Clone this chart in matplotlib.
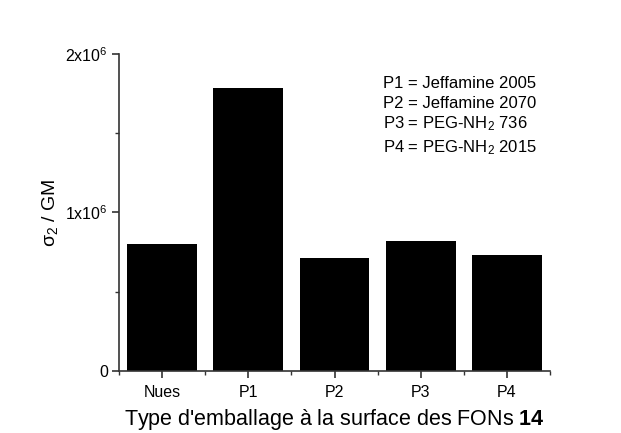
import numpy as np
import matplotlib
matplotlib.use('Agg')
import matplotlib.pyplot as plt
from matplotlib.ticker import FixedLocator, MultipleLocator

plt.rcParams['font.family'] = ['Liberation Sans', 'DejaVu Sans']
plt.rcParams['mathtext.fontset'] = 'custom'
plt.rcParams['mathtext.rm'] = 'Liberation Sans'
plt.rcParams['mathtext.it'] = 'Liberation Sans:italic'
plt.rcParams['mathtext.bf'] = 'Liberation Sans:bold'

categories = ['Nues', 'P1', 'P2', 'P3', 'P4']
sigma2_gm = [0.80e6, 1.785e6, 0.715e6, 0.82e6, 0.734e6]
ytick_vals = [0, 1e6, 2e6]
ytick_labels = ['0', '1x10$^{6}$', '2x10$^{6}$']
legend_lines = ['P1 = Jeffamine 2005', 'P2 = Jeffamine 2070',
                'P3 = PEG-NH$_{2}$ 736', 'P4 = PEG-NH$_{2}$ 2015']

fig = plt.figure(figsize=(6.21, 4.33), dpi=100)
ax = fig.add_axes([0.1916, 0.1432, 0.6941, 0.7321])

x = np.arange(len(categories))
ax.bar(x, sigma2_gm, width=0.81, color='black')

ax.set_xlim(-0.5, 4.5)
ax.set_ylim(0, 2e6)
ax.set_xticks(x)
ax.set_xticklabels(categories, fontsize=11.5)
ax.xaxis.set_minor_locator(FixedLocator(np.arange(-0.5, 4.6, 1.0)))
ax.set_yticks(ytick_vals)
ax.set_yticklabels(ytick_labels, fontsize=11.5)
ax.yaxis.set_minor_locator(MultipleLocator(0.5e6))

for s in ['top', 'right']:
    ax.spines[s].set_visible(False)
for s in ['left', 'bottom']:
    ax.spines[s].set_linewidth(1.2)
    ax.spines[s].set_color('#333333')
ax.tick_params(which='major', length=5, width=1.2, color='#333333')
ax.tick_params(axis='x', which='major', pad=5)
ax.tick_params(axis='y', which='major', pad=3)
ax.tick_params(which='minor', length=3, width=1.0, color='#333333')

ax.set_xlabel("Type d'emballage à la surface des FONs $\\mathbf{14}$", fontsize=15.5, labelpad=5)
ax.set_ylabel('σ$_{2}$ / GM', fontsize=14, labelpad=4)

ys = [83, 103, 124, 148]
for line, yp in zip(legend_lines, ys):
    fig.text(383 / 621, 1 - yp / 433, line, fontsize=12, va='center', ha='left')

fig.savefig('out.png', dpi=100)
